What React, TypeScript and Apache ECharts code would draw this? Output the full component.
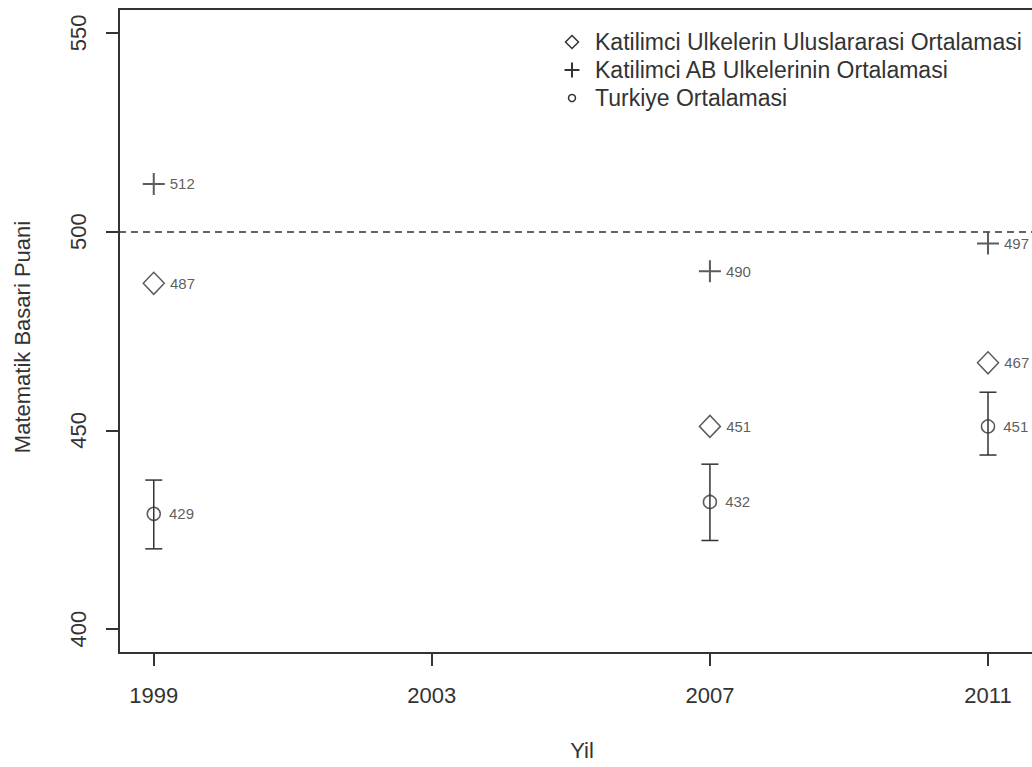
import { useEffect, useRef } from "react";
import * as echarts from "echarts";

// ---- data ----
const years = [1999, 2007, 2011];
const intlAvg = [487, 451, 467];
const euAvg = [512, 490, 497];
const turkeyAvg = [429, 432, 451];
const turkeyLow = [420.2, 422.3, 443.8];
const turkeyHigh = [437.5, 441.5, 459.6];
const xTicks = [1999, 2003, 2007, 2011];
const yTicks = [400, 450, 500, 550];
const referenceLine = 500;
const seriesNames = [
  "Katilimci Ulkelerin Uluslararasi Ortalamasi",
  "Katilimci AB Ulkelerinin Ortalamasi",
  "Turkiye Ortalamasi",
];
const xAxisTitle = "Yil";
const yAxisTitle = "Matematik Basari Puani";

const FONT = "'Liberation Sans', Arial, Helvetica, sans-serif";
const INK = "#333";

export default function App() {
  const ref = useRef<HTMLDivElement>(null);

  useEffect(() => {
    if (!ref.current) return;
    const chart = echarts.init(ref.current, undefined, { renderer: "svg" });

    const pointLabel = (distance: number) => ({
      show: true,
      position: "right" as const,
      distance,
      formatter: (p: any) => String(p.value[1]),
      fontSize: 15,
      fontFamily: FONT,
      color: INK,
    });

    const legendRows = [42, 70, 98];
    const lx = 572;

    const option: any = {
      animation: false,
      backgroundColor: "#fff",
      grid: {
        show: true,
        left: 119,
        top: 9,
        right: 55,
        bottom: 114,
        borderColor: INK,
        borderWidth: 2,
        containLabel: false,
      },
      xAxis: {
        type: "value",
        min: 1998.5,
        max: 2011.82,
        splitLine: { show: false },
        axisLine: { show: false },
        axisTick: {
          show: true,
          inside: false,
          length: 13,
          customValues: xTicks,
          lineStyle: { color: INK, width: 2 },
        },
        axisLabel: {
          customValues: xTicks,
          fontSize: 22,
          fontFamily: FONT,
          color: INK,
          margin: 31,
          formatter: (v: number) => String(v),
        },
        name: xAxisTitle,
        nameLocation: "middle",
        nameGap: 86,
        nameTextStyle: { fontSize: 22, fontFamily: FONT, color: INK },
      },
      yAxis: {
        type: "value",
        min: 394,
        max: 556,
        splitLine: { show: false },
        axisLine: { show: false },
        axisTick: {
          show: true,
          inside: false,
          length: 13,
          customValues: yTicks,
          lineStyle: { color: INK, width: 2 },
        },
        axisLabel: {
          customValues: yTicks,
          rotate: 90,
          fontSize: 22,
          fontFamily: FONT,
          color: INK,
          margin: 30,
          formatter: (v: number) => String(v),
        },
        name: yAxisTitle,
        nameLocation: "middle",
        nameRotate: 90,
        nameGap: 86,
        nameTextStyle: { fontSize: 22, fontFamily: FONT, color: INK, padding: [0, 12, 0, 0] },
      },
      series: [
        {
          type: "custom",
          name: "errorbars",
          silent: true,
          z: 2,
          encode: { x: 0, y: [1, 2] },
          data: years.map((y, i) => [y, turkeyLow[i], turkeyHigh[i]]),
          renderItem: (params: any, api: any) => {
            const x = api.value(0);
            const lo = api.coord([x, api.value(1)]);
            const hi = api.coord([x, api.value(2)]);
            const half = 8.5;
            const st = { stroke: INK, lineWidth: 1.5 };
            return {
              type: "group",
              children: [
                { type: "line", shape: { x1: lo[0], y1: lo[1], x2: hi[0], y2: hi[1] }, style: st },
                { type: "line", shape: { x1: lo[0] - half, y1: lo[1], x2: lo[0] + half, y2: lo[1] }, style: st },
                { type: "line", shape: { x1: hi[0] - half, y1: hi[1], x2: hi[0] + half, y2: hi[1] }, style: st },
              ],
            };
          },
        },
        {
          type: "scatter",
          name: seriesNames[0],
          z: 3,
          symbol: "diamond",
          symbolSize: [21, 22],
          itemStyle: { color: "rgba(0,0,0,0)", borderColor: INK, borderWidth: 1.5 },
          label: pointLabel(5),
          data: years.map((y, i) => [y, intlAvg[i]]),
          markLine: {
            silent: true,
            symbol: "none",
            label: { show: false },
            lineStyle: { type: [7, 5], color: INK, width: 1.5 },
            data: [{ yAxis: referenceLine }],
          },
        },
        {
          type: "scatter",
          name: seriesNames[1],
          z: 3,
          symbol: "path://M0,10L20,10M10,0L10,20",
          symbolSize: [22, 22],
          itemStyle: { color: "rgba(0,0,0,0)", borderColor: INK, borderWidth: 2 },
          label: pointLabel(4),
          data: years.map((y, i) => [y, euAvg[i]]),
        },
        {
          type: "scatter",
          name: seriesNames[2],
          z: 3,
          symbol: "circle",
          symbolSize: 13,
          itemStyle: { color: "rgba(0,0,0,0)", borderColor: INK, borderWidth: 1.5 },
          label: pointLabel(8),
          data: years.map((y, i) => [y, turkeyAvg[i]]),
        },
      ],
      graphic: [
        {
          type: "polygon",
          silent: true,
          shape: {
            points: [
              [lx, legendRows[0] - 6.5],
              [lx + 6.5, legendRows[0]],
              [lx, legendRows[0] + 6.5],
              [lx - 6.5, legendRows[0]],
            ],
          },
          style: { fill: "none", stroke: INK, lineWidth: 1.5 },
        },
        {
          type: "line",
          silent: true,
          shape: { x1: lx - 7.5, y1: legendRows[1], x2: lx + 7.5, y2: legendRows[1] },
          style: { stroke: INK, lineWidth: 2 },
        },
        {
          type: "line",
          silent: true,
          shape: { x1: lx, y1: legendRows[1] - 7.5, x2: lx, y2: legendRows[1] + 7.5 },
          style: { stroke: INK, lineWidth: 2 },
        },
        {
          type: "circle",
          silent: true,
          shape: { cx: lx, cy: legendRows[2], r: 3.5 },
          style: { fill: "none", stroke: INK, lineWidth: 1.5 },
        },
        ...seriesNames.map((name, i) => ({
          type: "text",
          silent: true,
          x: 595,
          y: legendRows[i],
          style: {
            text: name,
            fontSize: 23,
            fontFamily: FONT,
            fill: INK,
            verticalAlign: "middle",
          },
        })),
      ],
    };

    chart.setOption(option);
    return () => chart.dispose();
  }, []);

  return (
    <div
      style={{
        position: "fixed",
        left: 0,
        top: 0,
        width: 1032,
        height: 767,
        overflow: "hidden",
        background: "#fff",
      }}
    >
      <div ref={ref} style={{ width: 1100, height: 767 }} />
    </div>
  );
}
